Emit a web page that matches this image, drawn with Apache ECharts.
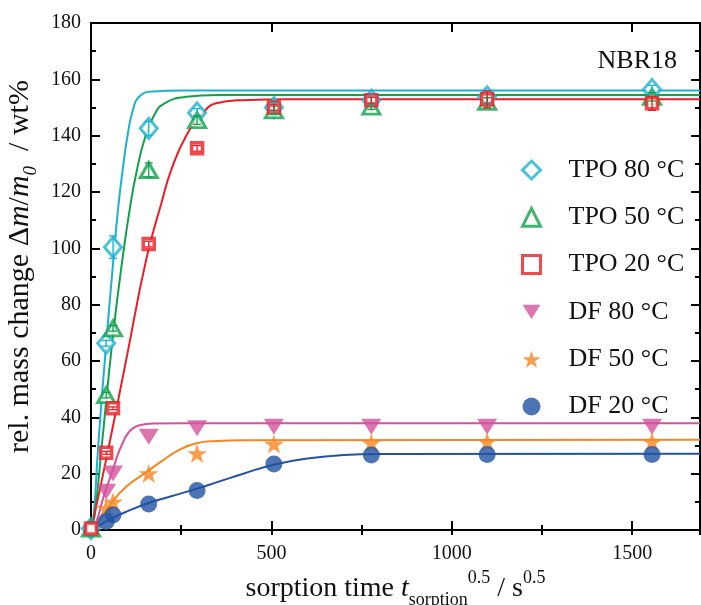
<!DOCTYPE html>
<html>
<head>
<meta charset="utf-8">
<script src="https://cdn.jsdelivr.net/npm/echarts@6/dist/echarts.min.js"></script>
<style>
html,body{margin:0;padding:0;background:#fff;}
#chart{width:701px;height:605px;}
</style>
</head>
<body>
<div id="chart"></div>
<script>
// ---------- data ----------
const tpoX = [0, 42, 61, 160, 294, 507, 777, 1098, 1555];
const tpo80 = [0.5, 66.3, 100.4, 142.6, 148.1, 150, 152.6, 153.8, 156.4];
const tpo50 = [0.5, 47.9, 71.6, 127.8, 145.5, 149, 150.3, 152, 153.8];
const tpo20 = [0.5, 27.4, 43.2, 101.5, 135.5, 150, 152.6, 152.9, 151.5];
const err80 = [0, 1, 4, 2.5, 1.5, 1.5, 1.5, 2, 1.5];
const err50 = [0, 1, 1, 2.5, 1.5, 1.5, 1, 1.5, 1.5];
const err20 = [0, 0.5, 0.5, 1, 1, 1, 1, 3, 2.5];

const dfX = [42, 61, 160, 294, 507, 777, 1098, 1555];
const df80 = [13.6, 20.1, 33.1, 36.1, 36.7, 36.7, 36.7, 36.7];
const df50 = [7.7, 10, 20.1, 27.2, 30.5, 31, 31.3, 31.3];
const df20 = [3, 5.3, 9.2, 14, 23.4, 26.6, 26.8, 26.8];

// fitted curves
const fit80X = [0, 8, 20, 42, 60, 75, 88, 100, 116, 135, 172, 250, 1688];
const fit80Y = [0, 6, 30, 66, 93, 114, 128, 139, 149, 154, 155.7, 156, 156];
const fit50X = [0, 10, 30, 60, 88, 110, 126, 149, 176, 204, 264, 350, 1688];
const fit50Y = [0, 5, 30, 68, 97, 116, 127, 139, 147.5, 151.5, 153.8, 154.4, 154.4];
const fit20X = [0, 42, 100, 153, 195, 223, 264, 310, 347, 420, 550, 1688];
const fit20Y = [0, 25, 62, 96, 116, 128, 140, 148, 151.5, 152.6, 152.9, 152.9];
const fitDf80X = [0, 15, 33, 50, 61, 75, 90, 98, 115, 135, 172, 250, 1688];
const fitDf80Y = [0, 3, 11, 17.5, 21.5, 27, 31.5, 33.5, 36, 37.2, 37.8, 37.9, 37.9];
const fitDf50X = [0, 28, 56, 98, 153, 200, 241, 292, 347, 420, 1688];
const fitDf50Y = [0, 4, 9.5, 15.4, 20.5, 24.8, 28.2, 30.8, 31.6, 31.9, 32];
const fitDf20X = [0, 30, 60, 100, 160, 220, 294, 350, 420, 506, 600, 700, 800, 1688];
const fitDf20Y = [0, 2.2, 4.3, 6.6, 9.6, 11.9, 14.7, 17, 19.9, 23.2, 25.4, 26.6, 27, 27.1];

const names = ['TPO 80 °C', 'TPO 50 °C', 'TPO 20 °C', 'DF 80 °C', 'DF 50 °C', 'DF 20 °C'];
const xTicks = [0, 500, 1000, 1500];
const xMax = 1688;

// ---------- style ----------
const FONT = "'Liberation Serif', 'Times New Roman', serif";
const C = ['#1bb1d0', '#12a14b', '#ed1c24', '#d5529e', '#f7861f', '#2152a3'];
const STAR = 'path://M50,0 L61.8,35.1 L98.9,35.1 L69.1,56.7 L80.3,91.9 L50,70.3 L19.7,91.9 L30.9,56.7 L1.1,35.1 L38.2,35.1 Z';
const DOWNTRI = 'path://M0,0 L20,0 L10,16 Z';

const zip = (xs, ys) => xs.map((x, i) => [x, ys[i]]);
const zip3 = (xs, ys, es) => xs.map((x, i) => [x, ys[i], es[i]]);

function fitSeries(xs, ys, color) {
  return {
    type: 'line', data: zip(xs, ys), smooth: 0.5,
    showSymbol: false, symbol: 'none', silent: true, z: 2,
    lineStyle: { color: color, width: 2 }, legendHoverLink: false
  };
}
function errSeries(xs, ys, es, color) {
  return {
    type: 'custom', z: 4, silent: true,
    data: zip3(xs, ys, es).filter(d => d[2] > 0),
    renderItem: function (params, api) {
      const x = api.value(0), y = api.value(1), e = api.value(2);
      const t = api.coord([x, y + e]), b = api.coord([x, y - e]);
      const w = 4;
      const st = { stroke: color, lineWidth: 1.3 };
      return {
        type: 'group', children: [
          { type: 'line', shape: { x1: t[0], y1: t[1], x2: b[0], y2: b[1] }, style: st },
          { type: 'line', shape: { x1: t[0] - w, y1: t[1], x2: t[0] + w, y2: t[1] }, style: st },
          { type: 'line', shape: { x1: b[0] - w, y1: b[1], x2: b[0] + w, y2: b[1] }, style: st }
        ]
      };
    }
  };
}
function scatter(name, xs, ys, symbol, size, item) {
  return {
    type: 'scatter', name: name, data: zip(xs, ys), symbol: symbol, symbolSize: size,
    z: 3, itemStyle: item, emphasis: { disabled: true }
  };
}

const axisLineStyle = { color: '#000', width: 2 };
const tickStyle = { color: '#000', width: 2 };

const legendData = names.map((n, i) => (i < 3
  ? { name: n, itemStyle: { color: '#fff', borderColor: C[i], borderWidth: 3 } }
  : { name: n }));

const option = {
  animation: false,
  backgroundColor: '#fff',
  grid: { left: 91, right: 1, top: 23, bottom: 75, containLabel: false, outerBoundsMode: 'none' },
  title: {
    text: 'NBR18', right: 19, top: 43,
    textStyle: { fontFamily: FONT, fontSize: 26, fontWeight: 'normal', color: '#111' }
  },
  legend: {
    orient: 'vertical', left: 516, top: 152,
    itemWidth: 18, itemHeight: 18, itemGap: 21.3,
    data: legendData,
    textStyle: { fontFamily: FONT, fontSize: 26, color: '#111', lineHeight: 18, padding: [0, 0, 0, 23] },
    selectedMode: false
  },
  xAxis: [
    {
      type: 'value', position: 'bottom', min: 0, max: xMax, interval: 500,
      axisLine: { show: true, onZero: false, lineStyle: axisLineStyle },
      axisTick: { inside: true, length: 9, lineStyle: tickStyle },
      axisLabel: {
        formatter: v => (xTicks.indexOf(v) >= 0 ? String(v) : ''),
        margin: 14, fontFamily: FONT, fontSize: 20, color: '#111'
      },
      splitLine: { show: false },
      name: '{n|sorption time }{i|t}{sub|sorption}{sup|0.5}{n| / s}{sup|0.5}',
      nameLocation: 'middle', nameGap: 30,
      nameTextStyle: {
        rich: {
          n: { fontFamily: FONT, fontSize: 28, color: '#111', lineHeight: 40 },
          i: { fontFamily: FONT, fontSize: 28, fontStyle: 'italic', color: '#111', lineHeight: 40 },
          sub: { fontFamily: FONT, fontSize: 18, color: '#111', lineHeight: 22, verticalAlign: 'bottom' },
          sup: { fontFamily: FONT, fontSize: 18, color: '#111', lineHeight: 22, verticalAlign: 'top' }
        }
      }
    },
    {
      type: 'value', position: 'bottom', min: 0, max: xMax, interval: 250,
      axisLine: { show: false }, axisTick: { inside: true, length: 5, lineStyle: tickStyle },
      axisLabel: { show: false }, splitLine: { show: false }
    },
    {
      type: 'value', position: 'top', min: 0, max: xMax, interval: 500,
      axisLine: { show: true, onZero: false, lineStyle: axisLineStyle },
      axisTick: { inside: true, length: 9, lineStyle: tickStyle },
      axisLabel: { show: false }, splitLine: { show: false }
    },
    {
      type: 'value', position: 'top', min: 0, max: xMax, interval: 250,
      axisLine: { show: false }, axisTick: { inside: true, length: 5, lineStyle: tickStyle },
      axisLabel: { show: false }, splitLine: { show: false }
    }
  ],
  yAxis: [
    {
      type: 'value', position: 'left', min: 0, max: 180, interval: 20,
      axisLine: { show: true, onZero: false, lineStyle: axisLineStyle },
      axisTick: { inside: true, length: 9, lineStyle: tickStyle },
      minorTick: { show: true, splitNumber: 2, length: 5, lineStyle: tickStyle },
      axisLabel: { margin: 10, fontFamily: FONT, fontSize: 20, color: '#111' },
      splitLine: { show: false },
      name: '{n|rel. mass change Δ}{i|m}{n|/}{i|m}{sub|0}{n|  / wt%}',
      nameLocation: 'middle', nameGap: 46, nameRotate: 90,
      nameTextStyle: {
        padding: [0, 0, 0, 20],
        rich: {
          n: { fontFamily: FONT, fontSize: 30, color: '#111', lineHeight: 40 },
          i: { fontFamily: FONT, fontSize: 30, fontStyle: 'italic', color: '#111', lineHeight: 40 },
          sub: { fontFamily: FONT, fontSize: 19, fontStyle: 'italic', color: '#111', lineHeight: 19, verticalAlign: 'bottom' }
        }
      }
    },
    {
      type: 'value', position: 'right', min: 0, max: 180, interval: 20,
      axisLine: { show: true, onZero: false, lineStyle: axisLineStyle },
      axisTick: { inside: true, length: 9, lineStyle: tickStyle },
      minorTick: { show: true, splitNumber: 2, length: 5, lineStyle: tickStyle },
      axisLabel: { show: false }, splitLine: { show: false }
    }
  ],
  series: [
    fitSeries(fit80X, fit80Y, C[0]),
    fitSeries(fit50X, fit50Y, C[1]),
    fitSeries(fit20X, fit20Y, C[2]),
    fitSeries(fitDf80X, fitDf80Y, C[3]),
    fitSeries(fitDf50X, fitDf50Y, C[4]),
    fitSeries(fitDf20X, fitDf20Y, C[5]),
    scatter(names[0], tpoX, tpo80, 'diamond', [17, 20], { color: '#fff', borderColor: C[0], borderWidth: 3 }),
    scatter(names[1], tpoX, tpo50, 'triangle', [17, 15], { color: '#fff', borderColor: C[1], borderWidth: 3 }),
    scatter(names[2], tpoX, tpo20, 'rect', [11, 11], { color: '#fff', borderColor: C[2], borderWidth: 3.5 }),
    scatter(names[3], dfX, df80, DOWNTRI, [20, 16], { color: C[3] }),
    scatter(names[4], dfX, df50, STAR, [20, 19], { color: C[4] }),
    scatter(names[5], dfX, df20, 'circle', 17, { color: C[5] }),
    errSeries(tpoX, tpo80, err80, C[0]),
    errSeries(tpoX, tpo50, err50, C[1]),
    errSeries(tpoX, tpo20, err20, C[2])
  ]
};

const chart = echarts.init(document.getElementById('chart'), null, { renderer: 'canvas' });
chart.setOption(option);
</script>
</body>
</html>
